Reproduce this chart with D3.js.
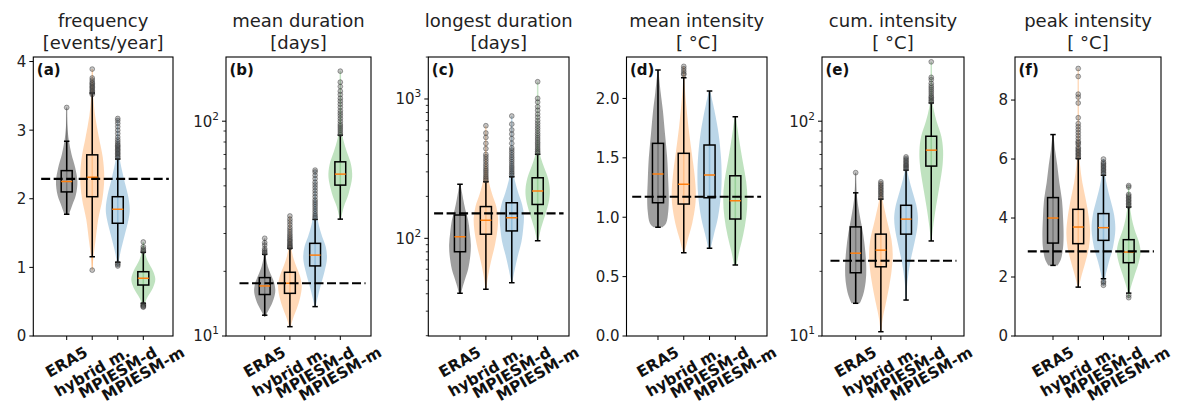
<!DOCTYPE html>
<html><head><meta charset="utf-8">
<script src="https://cdn.jsdelivr.net/npm/d3@7"></script>
<style>body{margin:0;background:#fff} svg{display:block} text{font-family:"DejaVu Sans",sans-serif}</style>
</head><body><svg id="chart" width="1178" height="414"></svg>
<script>
// ---------------- DATA ----------------
const categories = ["ERA5", "hybrid m.", "MPIESM-d", "MPIESM-m"];
const panelTitles = [["frequency","[events/year]"],["mean duration","[days]"],["longest duration","[days]"],
                     ["mean intensity","[ °C]"],["cum. intensity","[ °C]"],["peak intensity","[ °C]"]];
const panelLetters = ["(a)","(b)","(c)","(d)","(e)","(f)"];
const yLimits = [[0,4.066],[10,199],[19.9,2002],[0,2.349],[10,199],[0,9.46]];
const logAxis = [false,true,true,false,true,false];
const yTickValues = [[0,1,2,3,4],[10,100],[100,1000],[0,0.5,1,1.5,2],[10,100],[0,2,4,6,8]];
const yTickLabels = [["0","1","2","3","4"],["10^1","10^2"],["10^2","10^3"],["0.0","0.5","1.0","1.5","2.0"],["10^1","10^2"],["0","2","4","6","8"]];

// box stats: [whisker low, q1, median, q3, whisker high]
const freqBox = [[1.774,2.10,2.25,2.41,2.84],[1.156,2.03,2.315,2.64,3.54],[1.074,1.643,1.847,2.03,2.58],[0.477,0.743,0.84,0.937,1.22]];
const meanDurBox = [[12.5,15.6,17.1,18.7,24.0],[11.05,15.8,17.6,19.8,25.6],[13.7,21.2,23.8,27.0,34.9],[35.0,50.4,56.7,64.7,86.1]];
const longDurBox = [[40.3,80.1,102.7,147,244],[43.1,107,135,169,255],[48,113,140.6,180,277],[96,175,219,272,401]];
const meanIntBox = [[0.915,1.122,1.364,1.622,2.239],[0.701,1.111,1.277,1.538,2.174],[0.738,1.164,1.355,1.608,2.062],[0.598,0.985,1.139,1.349,1.846]];
const cumIntBox = [[14.2,19.7,24.3,32.2,46.4],[10.47,21.0,25.1,29.8,43.4],[14.7,29.8,35.0,40.6,59.2],[27.7,61.8,73.3,85.1,121.6]];
const peakIntBox = [[2.394,3.151,4.0,4.693,6.83],[1.657,3.131,3.695,4.295,6.017],[1.942,3.243,3.673,4.15,5.45],[1.453,2.486,2.846,3.266,4.374]];

// violin profiles: [value, relative density width]
const freqViolin = [
 [[1.77,0.2],[1.9,0.5],[2.05,0.85],[2.25,1.0],[2.45,0.8],[2.65,0.45],[2.85,0.2],[3.05,0.07],[3.33,0.02]],
 [[0.96,0.02],[1.15,0.1],[1.4,0.28],[1.7,0.5],[2.0,0.85],[2.3,1.0],[2.6,0.88],[2.9,0.55],[3.2,0.25],[3.5,0.08],[3.89,0.01]],
 [[1.01,0.03],[1.2,0.2],[1.45,0.55],[1.7,0.9],[1.85,1.0],[2.05,0.85],[2.3,0.5],[2.6,0.15],[2.9,0.04],[3.17,0.01]],
 [[0.42,0.03],[0.55,0.3],[0.7,0.8],[0.83,1.0],[0.95,0.8],[1.1,0.35],[1.25,0.08],[1.37,0.01]]];
const meanDurViolin = [
 [[12.3,0.05],[13,0.3],[14,0.65],[15.5,0.95],[16.5,1.0],[18,0.85],[19.5,0.55],[21,0.3],[23,0.12],[25,0.05],[28.5,0.01]],
 [[11,0.05],[12,0.25],[13.5,0.6],[15,0.85],[17,1.0],[19,0.85],[21,0.55],[23,0.3],[25,0.15],[28,0.05],[36.2,0.01]],
 [[13.7,0.05],[15,0.2],[17,0.45],[20,0.8],[23,1.0],[26,0.9],[29,0.6],[33,0.3],[38,0.12],[45,0.04],[59.2,0.005]],
 [[35,0.05],[40,0.3],[46,0.7],[55,1.0],[63,0.9],[72,0.55],[82,0.25],[95,0.08],[120,0.02],[171,0.005]]];
const longDurViolin = [
 [[40.3,0.1],[45,0.25],[52,0.5],[60,0.75],[75,0.95],[90,1.0],[110,0.9],[135,0.75],[160,0.5],[190,0.3],[220,0.15],[244,0.05]],
 [[43.1,0.03],[55,0.2],[70,0.45],[90,0.75],[115,0.95],[140,1.0],[170,0.85],[210,0.5],[260,0.22],[330,0.08],[450,0.02],[643,0.005]],
 [[48,0.03],[60,0.25],[75,0.5],[95,0.8],[120,0.95],[145,1.0],[175,0.85],[210,0.55],[260,0.25],[330,0.08],[450,0.02],[755,0.005]],
 [[96,0.05],[120,0.3],[150,0.65],[190,0.95],[225,1.0],[270,0.85],[320,0.55],[380,0.25],[450,0.08],[600,0.02],[1330,0.003]]];
const meanIntViolin = [
 [[0.915,0.4],[0.95,0.75],[1.05,0.95],[1.15,1.0],[1.3,0.95],[1.5,0.85],[1.7,0.65],[1.9,0.45],[2.05,0.25],[2.2,0.08],[2.24,0.03]],
 [[0.7,0.05],[0.8,0.3],[0.95,0.7],[1.1,0.95],[1.2,1.0],[1.35,0.9],[1.55,0.65],[1.75,0.4],[1.95,0.2],[2.1,0.08],[2.27,0.02]],
 [[0.738,0.1],[0.85,0.35],[1.0,0.7],[1.2,0.95],[1.35,1.0],[1.5,0.95],[1.7,0.75],[1.85,0.5],[1.95,0.3],[2.062,0.05]],
 [[0.598,0.1],[0.7,0.3],[0.85,0.65],[1.0,0.9],[1.15,1.0],[1.3,0.9],[1.45,0.65],[1.6,0.4],[1.75,0.18],[1.846,0.05]]];
const cumIntViolin = [
 [[14.2,0.4],[15.5,0.7],[18,0.95],[21,1.0],[25,0.9],[30,0.7],[35,0.45],[40,0.25],[46,0.1],[57.6,0.02]],
 [[10.47,0.03],[12,0.15],[14,0.4],[17,0.7],[20,0.9],[24,1.0],[28,0.9],[33,0.6],[38,0.35],[43,0.15],[52.2,0.02]],
 [[14.7,0.02],[18,0.12],[22,0.35],[27,0.7],[32,0.95],[36,1.0],[41,0.85],[47,0.55],[54,0.25],[60,0.08],[68.2,0.01]],
 [[27.7,0.03],[32,0.15],[40,0.4],[50,0.7],[62,0.95],[73,1.0],[85,0.85],[100,0.45],[115,0.18],[130,0.05],[189,0.005]]];
const peakIntViolin = [
 [[2.394,0.45],[2.6,0.75],[3.0,0.95],[3.4,1.0],[4.0,0.95],[4.6,0.85],[5.2,0.6],[5.8,0.4],[6.3,0.2],[6.83,0.05]],
 [[1.657,0.05],[2.0,0.25],[2.5,0.6],[3.0,0.9],[3.5,1.0],[4.0,0.9],[4.6,0.65],[5.2,0.35],[5.8,0.15],[6.5,0.05],[7.5,0.01],[9.07,0.003]],
 [[1.72,0.03],[2.0,0.15],[2.5,0.45],[3.0,0.8],[3.6,1.0],[4.1,0.9],[4.6,0.6],[5.0,0.35],[5.5,0.12],[6.0,0.02]],
 [[1.28,0.02],[1.6,0.15],[2.0,0.45],[2.5,0.85],[2.85,1.0],[3.2,0.85],[3.6,0.5],[4.0,0.25],[4.5,0.08],[5.1,0.01]]];

// outliers (fliers)
const freqOut = [[3.33],
 [3.52,3.54,3.56,3.58,3.6,3.62,3.64,3.66,3.68,3.7,3.73,3.76,3.89,0.96],
 [2.6,2.62,2.64,2.66,2.68,2.7,2.72,2.74,2.76,2.78,2.8,2.83,2.86,2.9,2.95,3.0,3.05,3.1,3.14,3.17,1.06,1.04,1.02],
 [1.23,1.25,1.27,1.3,1.37,0.46,0.45,0.44,0.43,0.42]];
const meanDurOut = [[24.3,24.6,25,25.5,26.5,27.2,28.5],
 [25.8,26,26.3,26.6,27,27.4,27.8,28.2,28.7,29.2,29.8,30.5,31.2,32,33,34,35,36.2],
 [35.5,36.2,37,38,39,40,41,42,43,44.5,46,47.5,49,50.5,52,54,56,58,59.2],
 [87,89,91,93,95,97,100,103,106,109,112,116,120,124,128,133,138,145,152,171]];
const longDurOut = [[],
 [260,268,276,285,295,305,315,327,340,355,370,385,400,440,480,530,570,643],
 [283,292,300,310,320,330,342,355,368,382,397,413,430,445,480,520,560,600,660,755],
 [410,420,432,445,460,475,490,508,525,545,565,590,615,640,670,700,740,780,830,880,950,1010,1330]];
const meanIntOut = [[],[2.2,2.21,2.23,2.25,2.27],[],[]];
const cumIntOut = [[57.6],
 [44,44.7,45.5,46.3,47,47.8,48.6,49.4,50.3,51.2,52.2],
 [60,60.7,61.5,62.3,63.1,64,65,66,67,68.2],
 [123,125,127,129,131,134,137,140,143,146,150,156,160,189]];
const peakIntOut = [[],
 [6.05,6.1,6.15,6.2,6.25,6.3,6.35,6.4,6.5,6.55,6.6,6.7,6.8,6.9,7.0,7.1,7.2,7.4,7.9,8.1,8.2,8.8,9.07],
 [5.5,5.55,5.6,5.65,5.7,5.75,5.8,5.85,5.9,6.0,1.85,1.8,1.72],
 [4.4,4.45,4.5,4.55,4.6,4.65,4.7,4.75,4.8,5.05,5.1,1.38,1.3]];

// ERA5 reference values (dashed lines)
const refValues = [2.29, 17.6, 151, 1.173, 22.4, 2.87];

// ---------------- LAYOUT / STYLE ----------------
const panelLeft  = [33.3, 226, 428.3, 626.5, 822, 1015];
const panelRight = [173, 371, 569, 767, 964, 1161];
const xLimits = [[-0.308,5.163],[-0.536,5.218],[-0.224,5.21],[-0.222,5.23],[-0.337,5.30],[-0.506,5.28]];
const plotTop = 57, plotBottom = 336;
const colors = ["#000000","#ff7f0e","#1f77b4","#2ca02c"];
const violinAlpha = [0.38,0.3,0.3,0.3];
const violinHalf = [0.42,0.47,0.47,0.47];
const boxWidth = 0.43;
const labelAngle = 30, labelSize = 15.5;

const panels = [
 {box: freqBox, violin: freqViolin, out: freqOut},
 {box: meanDurBox, violin: meanDurViolin, out: meanDurOut},
 {box: longDurBox, violin: longDurViolin, out: longDurOut},
 {box: meanIntBox, violin: meanIntViolin, out: meanIntOut},
 {box: cumIntBox, violin: cumIntViolin, out: cumIntOut},
 {box: peakIntBox, violin: peakIntViolin, out: peakIntOut}
];

const svg = d3.select("#chart");
svg.append("rect").attr("width",1178).attr("height",414).attr("fill","#fff");
const defs = svg.append("defs");

panels.forEach((p, i) => {
  const L = panelLeft[i], R = panelRight[i];
  const x = d3.scaleLinear().domain(xLimits[i]).range([L, R]);
  const y = (logAxis[i] ? d3.scaleLog() : d3.scaleLinear()).domain(yLimits[i]).range([plotBottom, plotTop]);
  const unit = x(1) - x(0);
  const g = svg.append("g");
  defs.append("clipPath").attr("id", "clip" + i).append("rect")
    .attr("x", L).attr("y", plotTop).attr("width", R - L).attr("height", plotBottom - plotTop);
  const plot = g.append("g").attr("clip-path", `url(#clip${i})`);

  // panel letter
  g.append("text").attr("x", L + 3.5).attr("y", plotTop + 18).attr("font-size", 15)
    .attr("font-weight", "bold").attr("fill", "#111").text(panelLetters[i]);

  // violins
  p.violin.forEach((prof, k) => {
    const cx = x(k + 1), hw = violinHalf[k] * unit;
    const area = d3.area().curve(d3.curveCatmullRom.alpha(0.5))
      .y(d => y(d[0])).x0(d => cx - d[1] * hw).x1(d => cx + d[1] * hw);
    plot.append("path").attr("d", area(prof)).attr("fill", colors[k]).attr("fill-opacity", violinAlpha[k]);
    plot.append("line").attr("x1", cx).attr("x2", cx)
      .attr("y1", y(prof[0][0])).attr("y2", y(prof[prof.length - 1][0]))
      .attr("stroke", colors[k]).attr("stroke-opacity", 0.25).attr("stroke-width", 1.5);
  });

  // boxplots
  p.box.forEach((b, k) => {
    const cx = x(k + 1), bw = boxWidth * unit;
    const [lo, q1, med, q3, hi] = b;
    const bg = plot.append("g").attr("stroke", "#000").attr("stroke-width", 1.5).attr("fill", "none");
    bg.append("line").attr("x1", cx).attr("x2", cx).attr("y1", y(q1)).attr("y2", y(lo));
    bg.append("line").attr("x1", cx).attr("x2", cx).attr("y1", y(q3)).attr("y2", y(hi));
    bg.append("line").attr("x1", cx - bw / 4).attr("x2", cx + bw / 4).attr("y1", y(lo)).attr("y2", y(lo));
    bg.append("line").attr("x1", cx - bw / 4).attr("x2", cx + bw / 4).attr("y1", y(hi)).attr("y2", y(hi));
    bg.append("rect").attr("x", cx - bw / 2).attr("width", bw).attr("y", y(q3)).attr("height", y(q1) - y(q3));
    plot.append("line").attr("x1", cx - bw / 2).attr("x2", cx + bw / 2).attr("y1", y(med)).attr("y2", y(med))
      .attr("stroke", "#ff7f0e").attr("stroke-width", 1.5);
    plot.selectAll(null).data(p.out[k]).enter().append("circle")
      .attr("cx", cx).attr("cy", d => y(d)).attr("r", 2.4)
      .attr("fill", "#555").attr("fill-opacity", 0.35)
      .attr("stroke", "#222").attr("stroke-opacity", 0.5).attr("stroke-width", 0.8);
  });

  // reference dashed line
  plot.append("line").attr("x1", x(0)).attr("x2", x(5)).attr("y1", y(refValues[i])).attr("y2", y(refValues[i]))
    .attr("stroke", "#000").attr("stroke-width", 2.1).attr("stroke-dasharray", "9,3.5");

  // spines
  g.append("rect").attr("x", L).attr("y", plotTop).attr("width", R - L).attr("height", plotBottom - plotTop)
    .attr("fill", "none").attr("stroke", "#000").attr("stroke-width", 1.1);

  // y ticks
  yTickValues[i].forEach((v, t) => {
    const yy = y(v);
    g.append("line").attr("x1", L - 4).attr("x2", L).attr("y1", yy).attr("y2", yy).attr("stroke", "#000").attr("stroke-width", 1);
    const lab = yTickLabels[i][t];
    const tx = g.append("text").attr("x", L - 7).attr("y", yy).attr("dy", "0.36em")
      .attr("text-anchor", "end").attr("font-size", 15).attr("fill", "#222");
    if (lab.includes("^")) {
      const [base, ex] = lab.split("^");
      tx.append("tspan").text(base);
      tx.append("tspan").attr("font-size", 10.5).attr("dy", -7).text(ex);
    } else tx.text(lab);
  });
  if (logAxis[i]) {
    const [d0, d1] = yLimits[i];
    for (let e = Math.floor(Math.log10(d0)); e <= Math.ceil(Math.log10(d1)); e++) {
      for (let m = 2; m <= 9; m++) {
        const v = m * Math.pow(10, e);
        if (v >= d0 && v <= d1) {
          g.append("line").attr("x1", L - 2.5).attr("x2", L).attr("y1", y(v)).attr("y2", y(v))
            .attr("stroke", "#000").attr("stroke-width", 0.8);
        }
      }
    }
  }

  // x ticks + rotated labels
  const th = labelAngle * Math.PI / 180;
  categories.forEach((c, k) => {
    const cx = x(k + 1);
    g.append("line").attr("x1", cx).attr("x2", cx).attr("y1", plotBottom).attr("y2", plotBottom + 4)
      .attr("stroke", "#000").attr("stroke-width", 1);
    const t = g.append("text").attr("text-anchor", "middle").attr("dominant-baseline", "central")
      .attr("font-size", labelSize).attr("font-weight", "bold").attr("fill", "#111").text(c);
    const w = t.node().getComputedTextLength();
    const h = labelSize * 1.05;
    const H = w * Math.sin(th) + h * Math.cos(th);
    t.attr("transform", `translate(${cx},${344 + H / 2}) rotate(${-labelAngle})`);
  });

  // title
  const tcx = (L + R) / 2;
  g.append("text").attr("x", tcx).attr("y", 27).attr("text-anchor", "middle").attr("font-size", 18)
    .attr("fill", "#222").text(panelTitles[i][0]);
  g.append("text").attr("x", tcx).attr("y", 49).attr("text-anchor", "middle").attr("font-size", 18)
    .attr("fill", "#222").text(panelTitles[i][1]);
});
</script></body></html>
